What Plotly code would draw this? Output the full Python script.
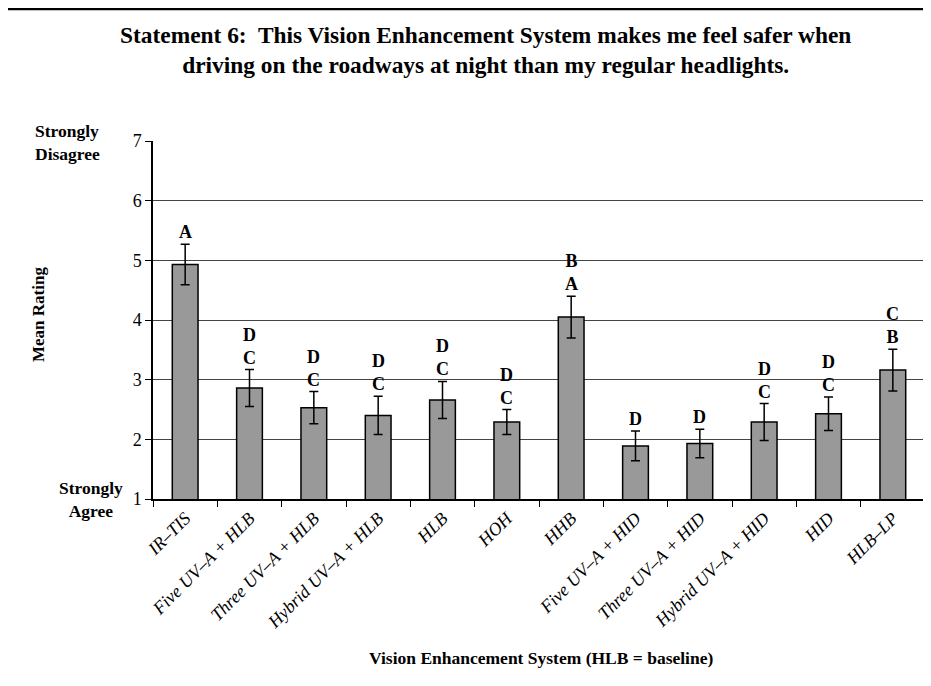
import plotly.graph_objects as go

categories = ["IR–TIS", "Five UV–A + HLB", "Three UV–A + HLB", "Hybrid UV–A + HLB",
              "HLB", "HOH", "HHB", "Five UV–A + HID", "Three UV–A + HID",
              "Hybrid UV–A + HID", "HID", "HLB–LP"]
means = [4.93, 2.86, 2.53, 2.40, 2.66, 2.29, 4.05, 1.89, 1.93, 2.29, 2.43, 3.16]
errors = [0.34, 0.31, 0.27, 0.32, 0.31, 0.21, 0.35, 0.25, 0.24, 0.31, 0.28, 0.35]
groups = ["A", "D<br>C", "D<br>C", "D<br>C", "D<br>C", "D<br>C", "B<br>A",
          "D", "D", "D<br>C", "D<br>C", "C<br>B"]
ytick_vals = [1, 2, 3, 4, 5, 6, 7]

FONT = "Times New Roman, Liberation Serif, serif"
W, H = 931, 686
OFF = 8  # page body margin
# plot area in screen pixels
PL, PR, PT, PB = 153, 925, 141, 499
ML, MT = PL - OFF, PT - OFF
MR, MB = W - (PR - OFF), H - (PB - OFF)
PW, PH = PR - PL, PB - PT


def px_x(x):
    return (x - PL) / PW


def px_y(y):
    return (PB - y) / PH


fig = go.Figure()
fig.add_trace(go.Bar(
    x=categories, y=means,
    marker=dict(color="#999999", line=dict(color="black", width=1.5)),
    error_y=dict(type="data", array=errors, visible=True, color="black",
                 thickness=1.5, width=4.5),
    width=0.4,
    hoverinfo="x+y",
))

annotations = []
for c, m, e, g in zip(categories, means, errors, groups):
    annotations.append(dict(x=c, y=m + e, xref="x", yref="y", text=g,
                            showarrow=False, yanchor="bottom", yshift=0,
                            font=dict(family=FONT, size=18, color="black",
                                      weight="bold")))

annotations += [
    dict(xref="paper", yref="paper", x=px_x(485), y=px_y(50),
         text="Statement 6:  This Vision Enhancement System makes me feel safer when<br>"
              "driving on the roadways at night than my regular headlights.",
         showarrow=False, xanchor="center", yanchor="middle",
         font=dict(family=FONT, size=23.4, color="black", weight="bold")),
    dict(xref="paper", yref="paper", x=px_x(541), y=px_y(658),
         text="Vision Enhancement System (HLB = baseline)", showarrow=False,
         xanchor="center", yanchor="middle",
         font=dict(family=FONT, size=17.5, color="black", weight="bold")),
    dict(xref="paper", yref="paper", x=px_x(38), y=px_y(315),
         text="Mean Rating", textangle=-90, showarrow=False,
         xanchor="center", yanchor="middle",
         font=dict(family=FONT, size=17, color="black", weight="bold")),
    dict(xref="paper", yref="paper", x=px_x(67), y=px_y(142),
         text="Strongly<br>Disagree", showarrow=False, align="left",
         xanchor="center", yanchor="middle",
         font=dict(family=FONT, size=17.5, color="black", weight="bold")),
    dict(xref="paper", yref="paper", x=px_x(91), y=px_y(499),
         text="Strongly<br>Agree", showarrow=False, align="center",
         xanchor="center", yanchor="middle",
         font=dict(family=FONT, size=17.5, color="black", weight="bold")),
]

shapes = [
    # plot area right border
    dict(type="line", xref="paper", yref="paper", x0=1, x1=1, y0=0, y1=1,
         line=dict(color="#888888", width=1.5)),
    # outer frame (top and left)
    dict(type="line", xref="paper", yref="paper", x0=px_x(6), x1=px_x(960),
         y0=px_y(9), y1=px_y(9), line=dict(color="black", width=2.5)),
    dict(type="line", xref="paper", yref="paper", x0=px_x(6), x1=px_x(6),
         y0=px_y(9), y1=px_y(720), line=dict(color="black", width=2.5)),
]

fig.update_layout(
    width=W, height=H,
    margin=dict(l=ML, r=MR, t=MT, b=MB, autoexpand=False),
    paper_bgcolor="white", plot_bgcolor="white",
    showlegend=False,
    annotations=annotations,
    shapes=shapes,
    font=dict(family=FONT, color="black"),
    xaxis=dict(type="category", tickson="boundaries", ticks="outside",
               ticklen=6, tickcolor="black", showline=True, linecolor="black",
               linewidth=1.5, tickangle=-45, automargin=False,
               tickfont=dict(family=FONT, size=18, color="black", style="italic"),
               showgrid=False),
    yaxis=dict(range=[1, 7], tickvals=ytick_vals, ticks="outside", ticklen=6,
               tickcolor="black", showline=True, linecolor="black",
               linewidth=1.5, gridcolor="#444444", gridwidth=1,
               zeroline=False, automargin=False,
               tickfont=dict(family=FONT, size=18, color="black")),
)

fig.write_html("out.html")
